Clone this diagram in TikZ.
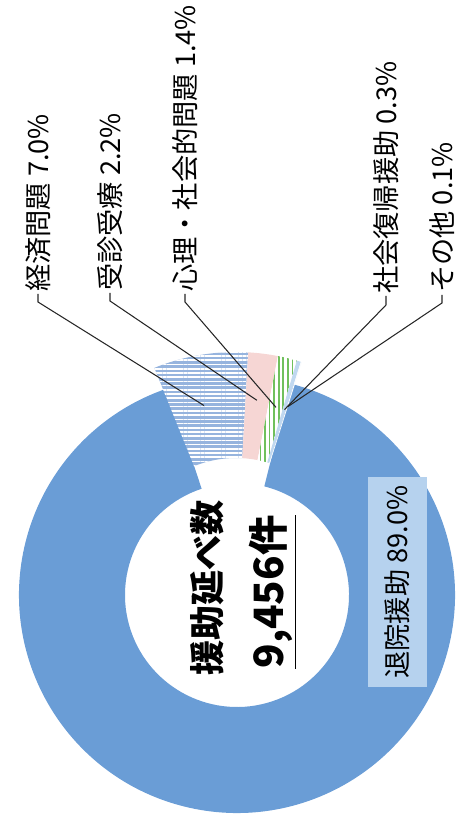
\documentclass[tikz,border=0pt]{standalone}
\usepackage{fontspec}
\newfontfamily\jpfont{Noto Sans CJK JP}
\usetikzlibrary{patterns.meta}
\definecolor{donutblue}{RGB}{106,157,214}
\definecolor{boxblue}{RGB}{182,210,238}
\definecolor{stripeblue}{RGB}{150,180,222}
\definecolor{slicepink}{RGB}{246,214,212}
\definecolor{slicegreen}{RGB}{112,192,92}
\definecolor{paleblue}{RGB}{192,216,240}
\begin{document}
\begin{tikzpicture}[
  lbl/.style={rotate=90,anchor=west,inner sep=1pt,font=\jpfont\fontsize{15.5}{18}\selectfont},
  leader/.style={draw=black!85,line width=0.6pt}
]
\useasboundingbox (0,0) rectangle (9.22,16.4);

\begin{scope}[shift={(4.74,4.5)}]
\fill [donutblue] (75.9:4.36) arc (75.9:-251.6:4.36) -- (-251.6:2.24) arc (-251.6:75.9:2.24) -- cycle;
\end{scope}

\begin{scope}[shift={(4.72,5.0)}]
\path [preaction={fill=stripeblue},pattern={Lines[angle=0,distance=2.4pt,line width=0.9pt]},pattern color=white] (112:4.36) arc (112:86.8:4.36) -- (86.8:2.24) arc (86.8:112:2.24) -- cycle;
\fill [slicepink] (86.8:4.36) arc (86.8:78.9:4.36) -- (78.9:2.24) arc (78.9:86.8:2.24) -- cycle;
\path [preaction={fill=white},pattern={Lines[angle=90,distance=2.6pt,line width=0.9pt]},pattern color=slicegreen] (78.9:4.36) arc (78.9:73.8:4.36) -- (73.8:2.24) arc (73.8:78.9:2.24) -- cycle;
\fill [paleblue] (73.8:4.36) arc (73.8:72.7:4.36) -- (72.7:2.24) arc (72.7:73.8:2.24) -- cycle;
\fill [white!90!paleblue] (72.7:4.36) arc (72.7:72.4:4.36) -- (72.4:2.24) arc (72.4:72.7:2.24) -- cycle;
\coordinate (econpt) at (101:3.35);
\coordinate (visitpt) at (83:3.42);
\coordinate (mindpt) at (76.2:3.35);
\coordinate (returnpt) at (73.2:3.35);
\coordinate (otherpt) at (72.5:3.42);
\end{scope}

\node (total) [rotate=90,font=\jpfont\bfseries\fontsize{20}{24}\selectfont] at (4.14,4.64) {援助延べ数};
\node (count) [rotate=90,font=\jpfont\bfseries\fontsize{23}{26}\selectfont] at (5.46,4.56) {\underline{9,456件}};
\node (discharge) [rotate=90,fill=boxblue,minimum width=4.2cm,minimum height=1.18cm,font=\jpfont\fontsize{15.5}{18}\selectfont] at (7.95,4.76) {退院援助 89.0\%};

\node (econ) [lbl] at (0.76,10.52) {経済問題 7.0\%};
\node (visit) [lbl] at (2.2,10.54) {受診受療 2.2\%};
\node (mind) [lbl] at (3.7,10.52) {心理\makebox[1em]{・}社会的問題 1.4\%};
\node (return) [lbl] at (7.72,10.48) {社会復帰援助 0.3\%};
\node (other) [lbl] at (8.84,10.5) {その他 0.1\%};

\draw [leader] (econ.west) -- ++(0,-0.16) -- (econpt);
\draw [leader] (visit.west) -- ++(0,-0.16) -- (visitpt);
\draw [leader] (mind.west) -- ++(0,-0.16) -- (mindpt);
\draw [leader] (return.west) -- ++(0,-0.18) -- (returnpt);
\draw [leader] (other.west) -- ++(0,-0.16) -- (otherpt);
\end{tikzpicture}
\end{document}
